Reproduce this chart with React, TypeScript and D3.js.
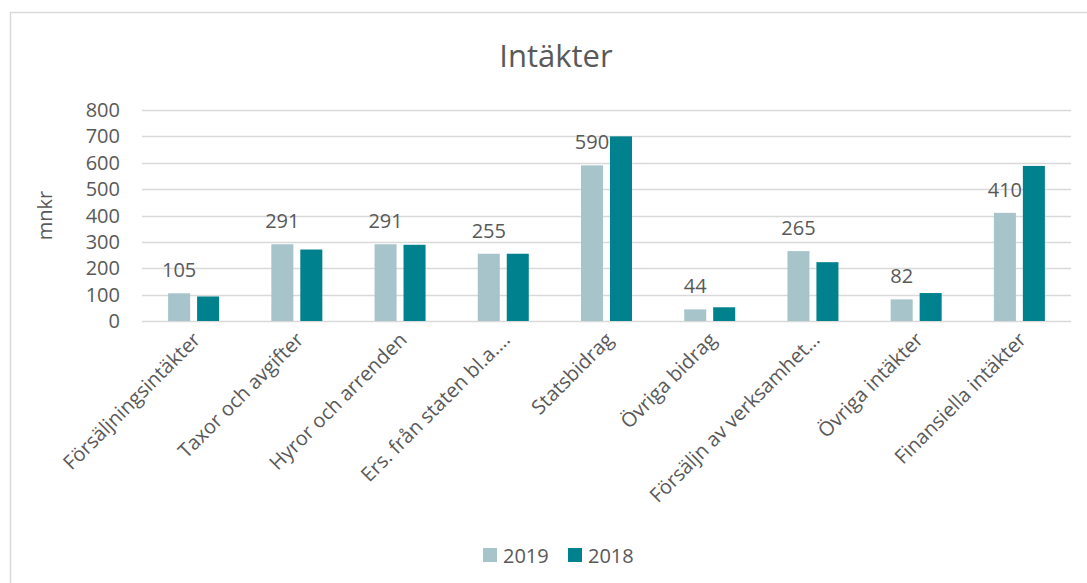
import React from "react";
import * as d3 from "d3";

const categories = [
  "Försäljningsintäkter",
  "Taxor och avgifter",
  "Hyror och arrenden",
  "Ers. från staten bl.a.…",
  "Statsbidrag",
  "Övriga bidrag",
  "Försäljn av verksamhet…",
  "Övriga intäkter",
  "Finansiella intäkter",
];
const seriesNames = ["2019", "2018"];
const values2019 = [105, 291, 291, 255, 590, 44, 265, 82, 410];
const values2018 = [93, 271, 289, 255, 700, 52, 223, 106, 588];
const yTicks = [0, 100, 200, 300, 400, 500, 600, 700, 800];
const title = "Intäkter";
const yTitle = "mnkr";

const colors: Record<string, string> = { "2019": "#A7C4CA", "2018": "#00818E" };
const textColor = "#595959";
const font = "'Open Sans', sans-serif";

export default function App() {
  const W = 1087;
  const H = 583;
  const left = 142;
  const right = 1071;
  const top = 110;
  const bottom = 321;

  const x = d3.scaleBand<string>().domain(categories).range([left, right]).paddingInner(0.506).paddingOuter(0.253);
  const xs = d3.scaleBand<string>().domain(seriesNames).range([0, x.bandwidth()]).paddingInner(0.24).paddingOuter(0);
  const y = d3.scaleLinear().domain([0, 800]).range([bottom, top]);

  const seriesData: Record<string, number[]> = { "2019": values2019, "2018": values2018 };

  return (
    <svg width={W} height={H} style={{ position: "absolute", left: 0, top: 0 }} fontFamily={font}>
      <rect x={0} y={0} width={W} height={H} fill="#fff" />
      <rect x={10.5} y={12.5} width={1100} height={600} fill="#fff" stroke="#D9D9D9" strokeWidth={1.5} />
      <text x={556} y={67} textAnchor="middle" fontSize={31} fill={textColor}>{title}</text>
      {yTicks.map((t) => (
        <g key={t}>
          <line x1={left} x2={right} y1={Math.round(y(t)) + 0.5} y2={Math.round(y(t)) + 0.5} stroke="#D9D9D9" strokeWidth={1.5} />
          <text x={120} y={y(t)} dy="0.35em" textAnchor="end" fontSize={20} fill={textColor}>{t}</text>
        </g>
      ))}
      <text transform={`translate(${45},${(top + bottom) / 2}) rotate(-90)`} textAnchor="middle" dy="0.35em" fontSize={20} fill={textColor}>{yTitle}</text>
      {categories.map((c, i) => (
        <g key={c}>
          {seriesNames.map((s) => {
            const v = seriesData[s][i];
            return (
              <rect key={s} x={(x(c) as number) + (xs(s) as number)} y={y(v)} width={xs.bandwidth()} height={y(0) - y(v)} fill={colors[s]} />
            );
          })}
          <text
            x={(x(c) as number) + (xs("2019") as number) + xs.bandwidth() / 2}
            y={y(values2019[i]) - 16}
            textAnchor="middle"
            fontSize={20}
            fill={textColor}
          >
            {values2019[i]}
          </text>
          <text
            transform={`translate(${(x(c) as number) + x.bandwidth() / 2 + 8},${bottom + 20}) rotate(-45)`}
            textAnchor="end"
            fontSize={20}
            fill={textColor}
          >
            {c}
          </text>
        </g>
      ))}
      {seriesNames.map((s, i) => (
        <g key={s} transform={`translate(${483 + i * 85},548)`}>
          <rect x={0} y={0} width={14} height={14} fill={colors[s]} />
          <text x={20} y={15} fontSize={20} fill={textColor}>{s}</text>
        </g>
      ))}
    </svg>
  );
}
